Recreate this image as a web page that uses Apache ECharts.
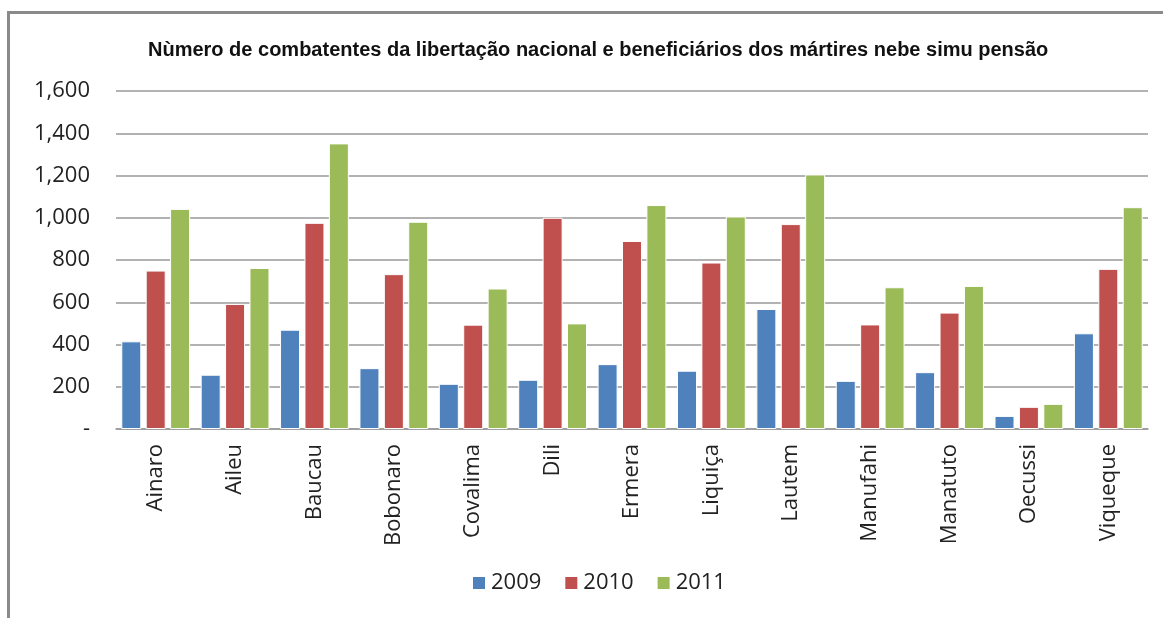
<!DOCTYPE html>
<html>
<head>
<meta charset="utf-8">
<script src="https://cdn.jsdelivr.net/npm/echarts@6/dist/echarts.min.js"></script>
<style>
  html, body { margin: 0; padding: 0; background: #fff; }
  #frame { position: absolute; left: 7px; top: 11px; width: 1156px; height: 607px;
           border-left: 3px solid #8a8a8a; border-top: 3px solid #8a8a8a; }
  #main { position: absolute; left: 0; top: 0; width: 1163px; height: 618px; }
</style>
</head>
<body>
<div id="frame"></div>
<div id="main"></div>
<script>
var districts = ['Ainaro', 'Aileu', 'Baucau', 'Bobonaro', 'Covalima', 'Dili', 'Ermera',
  'Liquiça', 'Lautem', 'Manufahi', 'Manatuto', 'Oecussi', 'Viqueque'];
var years = ['2009', '2010', '2011'];
var v2009 = [415, 257, 470, 288, 214, 233, 307, 276, 568, 228, 269, 62, 453];
var v2010 = [750, 592, 976, 733, 494, 1000, 890, 788, 970, 495, 551, 105, 758];
var v2011 = [1042, 762, 1352, 981, 665, 500, 1060, 1006, 1205, 671, 677, 119, 1050];
var colors = ['#4F81BD', '#C0504D', '#9BBB59'];

var chart = echarts.init(document.getElementById('main'));

function bar(name, data) {
  return {
    name: name,
    type: 'bar',
    data: data,
    barWidth: 20,
    barGap: '22%',
    itemStyle: { borderColor: '#ffffff', borderWidth: 1 }
  };
}

var option = {
  animation: false,
  color: colors,
  title: {
    text: 'Nùmero de combatentes da libertação nacional e beneficiários dos mártires nebe simu pensão',
    left: 143,
    top: 35,
    textStyle: { fontFamily: 'Liberation Sans', fontWeight: 'bold', fontSize: 20, color: '#111' }
  },
  legend: {
    data: years,
    bottom: 19,
    left: 466,
    itemWidth: 14,
    itemHeight: 14,
    itemGap: 22,
    icon: 'rect',
    textStyle: { fontFamily: 'Open Sans', fontSize: 22, color: '#222' }
  },
  grid: { left: 116, right: 15, top: 91, bottom: 189 },
  xAxis: {
    type: 'category',
    data: districts,
    axisLine: { lineStyle: { color: '#999', width: 1.5 } },
    axisTick: { show: false },
    axisLabel: {
      rotate: 90,
      margin: 15,
      fontFamily: 'Open Sans',
      fontSize: 22,
      color: '#222'
    }
  },
  yAxis: {
    type: 'value',
    min: 0,
    max: 1600,
    interval: 200,
    axisLine: { show: false },
    axisTick: { show: false },
    splitLine: { lineStyle: { color: '#999', width: 1.5 } },
    axisLabel: {
      margin: 26,
      fontFamily: 'Open Sans',
      fontSize: 22,
      color: '#222',
      formatter: function (v) {
        return v === 0 ? '-' : v.toLocaleString('en-US');
      }
    }
  },
  series: [bar(years[0], v2009), bar(years[1], v2010), bar(years[2], v2011)]
};

chart.setOption(option);
</script>
</body>
</html>
